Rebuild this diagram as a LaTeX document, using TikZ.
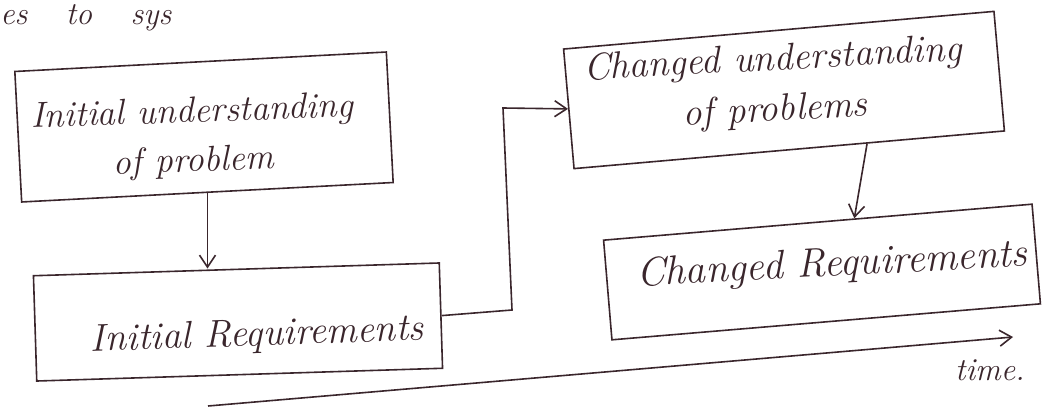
\documentclass[tikz,border=0pt]{standalone}
\usetikzlibrary{arrows.meta,calc}
\definecolor{ink}{RGB}{58,38,44}
\begin{document}
\begin{tikzpicture}[x=0.75pt,y=-0.75pt,
  box/.style={draw=ink,line width=1.2pt,inner sep=0pt,rectangle},
  hand/.style={text=ink,font=\fontsize{24}{34}\selectfont\itshape,align=center,inner sep=0pt},
  handA/.style={hand,font=\fontsize{27}{37}\selectfont\itshape},
  handB/.style={hand,font=\fontsize{29}{36}\selectfont\itshape},
  handC/.style={hand,font=\fontsize{28.5}{38}\selectfont\itshape},
  handD/.style={hand,font=\fontsize{30.5}{36}\selectfont\itshape},
  conn/.style={draw=ink,line width=1.2pt},
  arr/.style={conn,-{Straight Barb[length=9pt,width=12pt,line width=1.2pt]}}]
\useasboundingbox (0,0) rectangle (1046,407);
% partial text at the top edge
\node[hand,anchor=base west] (top) at (0,24) {es\hspace{1.2em}to\hspace{1.2em}sys};
% boxes
\node[box,minimum width=279pt,minimum height=98pt,rotate=3] (b1) at (204,127) {};
\node[box,minimum width=304.5pt,minimum height=79pt,rotate=1.8] (b2) at (238,322) {};
\node[box,minimum width=324pt,minimum height=90pt,rotate=5] (b3) at (784,90) {};
\node[box,minimum width=322.5pt,minimum height=75pt,rotate=4.8] (b4) at (822,272) {};
% texts
\node[handA,rotate=2] (l1) at (193,138) {Initial understanding\\of problem};
\node[handB,rotate=2] (l2) at (257,336) {Initial Requirements};
\node[handC,rotate=3] (l3) at (774,86) {Changed understanding\\of problems};
\node[handD,rotate=3] (l4) at (832,266) {Changed Requirements};
\node[hand] (tm) at (990,370) {time.};
% connectors
\draw[arr] (b1.south) -- (b1.south |- b2.north);
\coordinate (k1) at (512,310);
\coordinate (k2) at (503,108);
\draw[arr] (b2.east) -- (k1) -- (k2) -- (b3.west);
\coordinate (s3) at ($(b3.south west)!0.68!(b3.south east)$);
\coordinate (n4) at ($(b4.north west)!0.585!(b4.north east)$);
\draw[arr] (s3) -- (n4);
\coordinate (t1) at (208,406);
\coordinate (t2) at (1013,337);
\draw[arr] (t1) -- (t2);
\end{tikzpicture}
\end{document}
